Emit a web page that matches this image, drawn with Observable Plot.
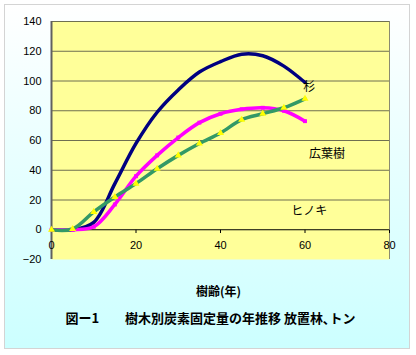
<!DOCTYPE html>
<html>
<head>
<meta charset="utf-8">
<script src="https://cdn.jsdelivr.net/npm/d3@7"></script>
<script src="https://cdn.jsdelivr.net/npm/@observablehq/plot@0.6"></script>
<style>
  html, body { margin: 0; padding: 0; background: #fff; }
  #wrap { position: relative; width: 416px; height: 355px; overflow: hidden; }
  #box { position: absolute; left: 4px; top: 4px; width: 404px; height: 343px;
         border: 1px solid #d4d4d4; background: linear-gradient(#ffffff, #ccffff); }
  #chart { position: absolute; left: 0; top: 0; }
  #chart svg { background: transparent !important; }
</style>
</head>
<body>
<div id="wrap"><div id="box"></div><div id="chart"></div></div>
<script>
const years  = [0, 5, 10, 15, 20, 25, 30, 35, 40, 45, 50, 55, 60];
const sugi   = [0, 0, 5, 31, 58, 79, 94, 106, 113, 118, 117, 110, 99];
const hinoki = [0, 0, 2, 17, 36, 50, 62, 72, 78, 81, 82, 80, 73];
const koyoju = [0, 0.5, 12, 22, 31, 41, 50, 58, 65, 74, 78, 82, 88];
const yTicks = [-20, 0, 20, 40, 60, 80, 100, 120, 140];
const xTicks = [0, 20, 40, 60, 80];
const seriesLabels = [
  {name: "杉", x: 61, y: 96},
  {name: "広葉樹", x: 65.2, y: 50.6},
  {name: "ヒノキ", x: 61, y: 12.2}
];
const xTitle = "樹齢(年)";
const caption = "図ー1　　樹木別炭素固定量の年推移 放置林､トン";

const mk = (vals) => years.map((x, i) => ({x, y: vals[i]}));
const dSugi = mk(sugi), dHinoki = mk(hinoki), dKoyoju = mk(koyoju);

const latin = "'Liberation Sans', Arial, sans-serif";
const jp = "'Noto Sans CJK JP', sans-serif";

const chart = Plot.plot({
  width: 416, height: 355,
  marginLeft: 51, marginRight: 27, marginTop: 21, marginBottom: 96,
  style: {background: "transparent", fontFamily: latin, fontSize: "11px", color: "#000"},
  x: {domain: [0, 80]},
  y: {domain: [-20, 140]},
  marks: [
    Plot.frame({fill: "#ffff99", stroke: null}),
    Plot.ruleY(yTicks.filter(d => d > 0), {stroke: "#6f6f50", strokeWidth: 1}),
    Plot.ruleX([80], {stroke: "#8a8a70", strokeWidth: 1}),
    Plot.ruleY([0], {stroke: "#000", strokeWidth: 1}),
    Plot.link(xTicks.filter(d => d > 0), {x1: d => d, x2: d => d, y1: 0, y2: -2.2, stroke: "#000"}),
    Plot.ruleX([0], {stroke: "#606060", strokeWidth: 2}),
    Plot.axisY({ticks: yTicks, tickSize: 0, tickPadding: 10, label: null, fontSize: 11, fontFamily: latin}),
    Plot.axisX({ticks: [], label: null, tickSize: 0}),
    Plot.text(xTicks, {x: d => d, y: 0, dy: 16, text: d => String(d), fontSize: 11, fontFamily: latin}),
    Plot.line(dSugi, {x: "x", y: "y", curve: "catmull-rom", stroke: "#000080", strokeWidth: 3.5}),
    Plot.line(dHinoki, {x: "x", y: "y", curve: "catmull-rom", stroke: "#ff00ff", strokeWidth: 3.5}),
    Plot.dot(dHinoki, {x: "x", y: "y", symbol: "square", r: 2.2, fill: "#ff00ff", stroke: null}),
    Plot.line(dKoyoju, {x: "x", y: "y", curve: "catmull-rom", stroke: "#339966", strokeWidth: 3.5}),
    Plot.dot(dKoyoju, {x: "x", y: "y", symbol: "triangle", r: 2.6, fill: "#ffff00", stroke: null}),
    Plot.text(seriesLabels, {x: "x", y: "y", text: "name", fontSize: 12, fontFamily: jp}),
    Plot.text([xTitle], {frameAnchor: "bottom", dx: -2, dy: 36, fontSize: 12, fontWeight: "bold", fontFamily: jp}),
    Plot.text([caption], {frameAnchor: "bottom", dx: -10, dy: 63, fontSize: 13, fontWeight: "bold", fontFamily: jp})
  ]
});
document.getElementById("chart").appendChild(chart);
</script>
</body>
</html>
